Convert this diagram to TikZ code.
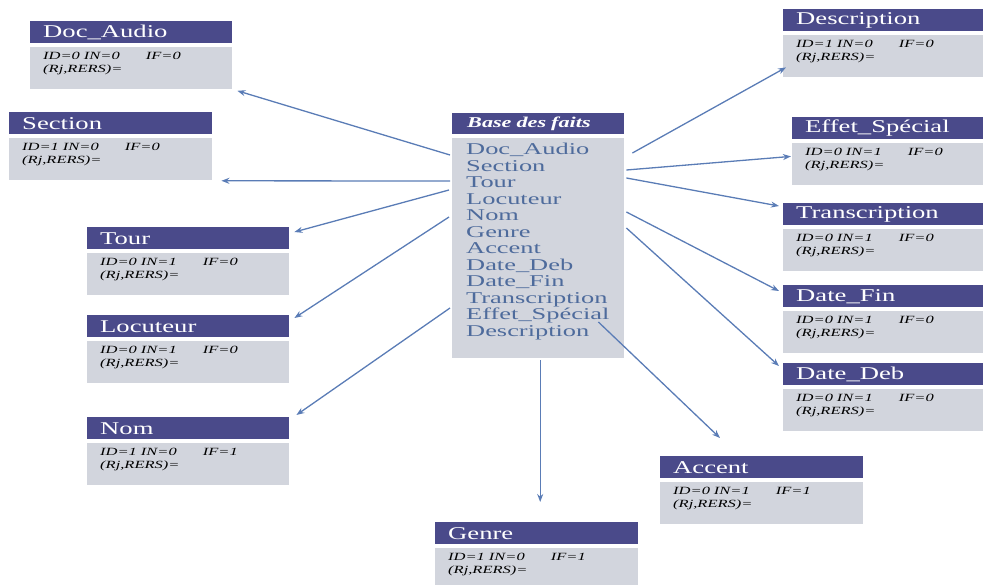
\documentclass[tikz,border=0pt]{standalone}
\usepackage{fontspec}
\usetikzlibrary{arrows.meta}
\setmainfont{Liberation Serif}
\newfontfamily\hdrfamily[FakeStretch=1.48]{Liberation Serif}
\newfontfamily\valfamily[FakeStretch=1.5]{Liberation Serif}
\newfontfamily\listfamily[FakeStretch=1.6]{Liberation Serif}

\definecolor{hdrcol}{HTML}{4A4A8A}
\definecolor{bodycol}{HTML}{D2D5DD}
\definecolor{listcol}{HTML}{4E6B9C}
\definecolor{arrcol}{HTML}{5A7CB6}

\tikzset{
  hdr/.style={anchor=north west, fill=hdrcol, text=white,
    font=\hdrfamily\fontsize{18}{19}\selectfont,
    inner xsep=13pt, inner ysep=0pt, minimum height=22pt, align=left},
  bdy/.style={anchor=north west, fill=bodycol, inner sep=0pt, minimum height=42pt},
  vals/.style={anchor=north west, inner sep=0pt, align=left,
    font=\valfamily\itshape\fontsize{11}{12.5}\selectfont},
  arr/.style={draw=arrcol, line width=1.3pt, -{Stealth[length=8pt,width=6pt]}}
}

% one fact: header strip, grey body, and its two value lines
\newcommand\factbox[6]{%
  \pgfmathsetmacro\fbtw{#4-26}%
  \node[hdr, minimum width=#4pt, text width=\fbtw pt] (#1H) at (#2,#3) {#5};
  \node[bdy, minimum width=#4pt] (#1B) at ([yshift=-3pt]#1H.south west) {};
  \node[vals] (#1V) at ([shift={(13,6)}]#1B.north west) {#6\\(Rj,RERS)=};
}
\newcommand\idv[3]{ID=#1\hspace{4pt}IN=#2\hspace{26pt}IF=#3}

\begin{document}
\begin{tikzpicture}[x=1pt,y=-1pt]
\useasboundingbox (0,0) rectangle (983,584);

% left column
\factbox{doc}{30}{21}{202}{Doc\_Audio}{\idv{0}{0}{0}}
\factbox{sec}{9}{112}{203}{Section}{\idv{1}{0}{0}}
\factbox{tour}{87}{227}{202}{Tour}{\idv{0}{1}{0}}
\factbox{loc}{87}{315}{202}{Locuteur}{\idv{0}{1}{0}}
\factbox{nom}{87}{417}{202}{Nom}{\idv{1}{0}{1}}

% bottom
\factbox{gen}{435}{522}{203}{Genre}{\idv{1}{0}{1}}
\factbox{acc}{660}{456}{203}{Accent}{\idv{0}{1}{1}}

% right column
\factbox{des}{783}{9}{200}{Description}{\idv{1}{0}{0}}
\factbox{eff}{792}{117}{191}{Effet\_Spécial}{\idv{0}{1}{0}}
\factbox{tra}{783}{203}{200}{Transcription}{\idv{0}{1}{0}}
\factbox{dfin}{783}{285}{200}{Date\_Fin}{\idv{0}{1}{0}}
\factbox{ddeb}{783}{363}{200}{Date\_Deb}{\idv{0}{1}{0}}

% central fact base
\node[anchor=north west, fill=hdrcol, text=white, minimum width=172pt, minimum height=21pt,
  inner xsep=15pt, inner ysep=0pt, text width=142pt, align=left,
  font=\hdrfamily\bfseries\itshape\fontsize{15}{16}\selectfont]
  (baseH) at (452,113) {Base des faits};
\node[anchor=north west, fill=bodycol, minimum width=172pt, minimum height=220pt, inner sep=0pt]
  (baseB) at (452,138) {};
\node[anchor=north west, inner sep=0pt, align=left, text=listcol,
  font=\listfamily\fontsize{16.5}{16.5}\selectfont]
  (baseL) at ([shift={(14,5)}]baseB.north west)
  {Doc\_Audio\\Section\\Tour\\Locuteur\\Nom\\Genre\\Accent\\Date\_Deb\\Date\_Fin\\Transcription\\Effet\_Spécial\\Description};

% links from the fact base to each fact
\draw[arr] ([shift={(-2,17)}]baseB.north west) -- ([shift={(5,2)}]docB.south east);
\draw[arr] ([shift={(-2,43)}]baseB.north west) -- ([shift={(9,1)}]secB.south east);
\draw[arr] ([shift={(-3,52)}]baseB.north west) -- ([shift={(5,5)}]tourH.north east);
\draw[arr] ([shift={(-3,79)}]baseB.north west) -- ([shift={(5,3)}]locH.north east);
\draw[arr] ([shift={(-2,170)}]baseB.north west) -- ([shift={(7,-2)}]nomH.north east);
\draw[arr] ([shift={(2,2)}]baseB.south) -- ([shift={(3.5,-20)}]genH.north);
\draw[arr] ([shift={(-26,184)}]baseB.north east) -- ([shift={(60,-18)}]accH.north west);
\draw[arr] ([shift={(2,90)}]baseB.north east) -- ([shift={(-4,3)}]ddebH.north west);
\draw[arr] ([shift={(2,74)}]baseB.north east) -- ([shift={(-4,6)}]dfinH.north west);
\draw[arr] ([shift={(2,40)}]baseB.north east) -- ([shift={(-4,3)}]traH.north west);
\draw[arr] ([shift={(2,32)}]baseB.north east) -- ([shift={(-1,14)}]effB.north west);
\draw[arr] ([shift={(8,15)}]baseB.north east) -- ([shift={(3,33)}]desB.north west);
\end{tikzpicture}
\end{document}
